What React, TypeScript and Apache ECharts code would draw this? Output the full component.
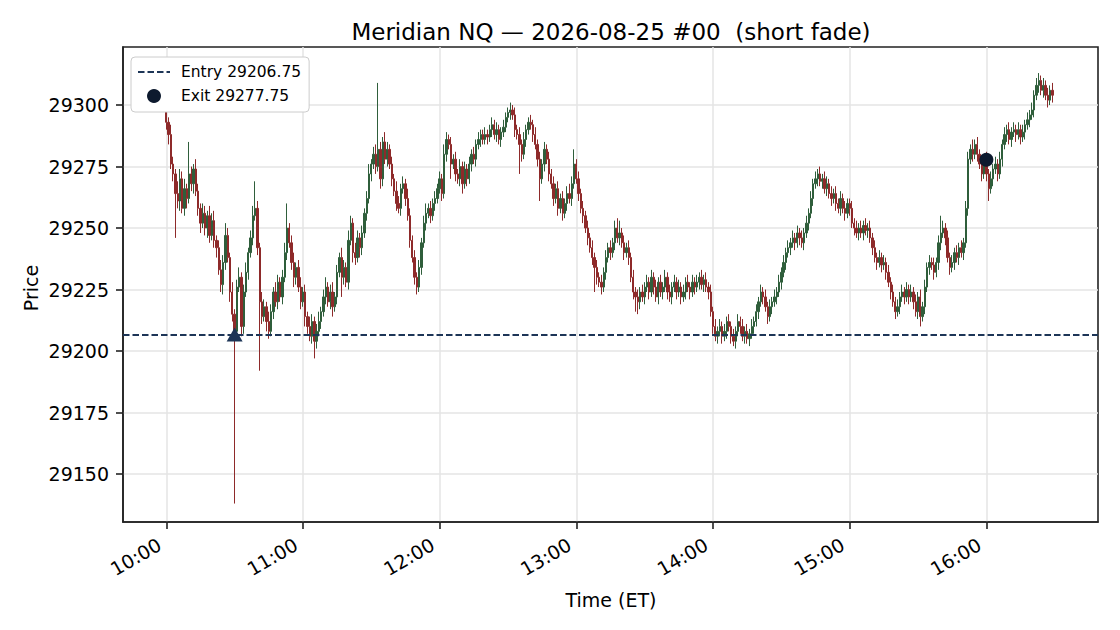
import React, { useEffect, useRef } from "react";
import * as echarts from "echarts";

// ---- data (prices are offsets in points from BASE_PRICE) ----
const BASE_PRICE = 29200;
const SESSION_START_MINUTE = 600; // 10:00
const xTickLabels = ["10:00", "11:00", "12:00", "13:00", "14:00", "15:00", "16:00"];
const yTicks = [29150, 29175, 29200, 29225, 29250, 29275, 29300];
const entryPrice = 29206.75;
const exitPrice = 29277.75;
const entryMinute = 30;
const exitMinute = 360;
const firstOpen = 100;

// 1-minute closes, 10:00 .. 16:29
const closes = [
  93, 88, 76, 72, 64, 61, 70, 58, 66, 62,
  72, 68, 74, 65, 58, 52, 56, 50, 55, 47,
  53, 45, 42, 33, 27, 36, 47, 38, 24, 15,
  8, 26, 30, 10, 24, 32, 40, 46, 55, 58,
  42, 20, 14, 18, 12, 8, 16, 24, 20, 28,
  22, 30, 40, 50, 44, 36, 30, 34, 26, 20,
  24, 14, 10, 6, 12, 4, 8, 12, 16, 22,
  26, 20, 24, 18, 22, 32, 38, 30, 34, 28,
  45, 52, 40, 38, 46, 42, 48, 56, 62, 72,
  76, 80, 75, 82, 70, 85, 78, 82, 76, 70,
  65, 60, 58, 66, 68, 62, 55, 45, 38, 30,
  26, 34, 44, 52, 56, 58, 55, 60, 62, 66,
  70, 64, 80, 86, 84, 76, 78, 72, 70, 75,
  68, 74, 70, 76, 80, 78, 84, 86, 88, 86,
  88, 87, 90, 92, 88, 90, 86, 89, 91, 95,
  97, 98, 96, 90, 88, 84, 80, 86, 90, 93,
  92, 88, 84, 78, 70, 76, 82, 78, 72, 68,
  62, 66, 58, 62, 56, 60, 64, 62, 68, 76,
  70, 64, 58, 55, 50, 46, 42, 38, 34, 30,
  28, 26, 32, 38, 42, 40, 44, 50, 46, 48,
  44, 40, 42, 38, 30, 24, 22, 20, 24, 22,
  26, 28, 24, 30, 26, 22, 28, 24, 26, 30,
  24, 22, 26, 28, 24, 26, 22, 24, 28, 26,
  24, 28, 26, 28, 30, 27, 29, 26, 24, 16,
  10, 6, 8, 10, 6, 8, 12, 10, 6, 4,
  8, 12, 10, 6, 8, 5, 7, 10, 12, 16,
  20, 24, 22, 18, 14, 18, 20, 22, 24, 28,
  32, 36, 40, 42, 44, 46, 44, 48, 46, 44,
  48, 52, 56, 62, 68, 70, 72, 69, 70, 66,
  68, 64, 62, 64, 60, 58, 62, 58, 56, 60,
  58, 52, 50, 48, 50, 48, 51, 49, 50, 46,
  42, 38, 36, 38, 35, 36, 32, 28, 24, 20,
  16, 18, 22, 24, 22, 25, 22, 24, 20, 16,
  22, 14, 18, 26, 34, 36, 35, 32, 36, 44,
  48, 50, 46, 38, 34, 36, 40, 38, 42, 40,
  44, 58, 78, 82, 80, 84, 80, 76, 72, 78,
  72, 66, 70, 74, 76, 72, 78, 84, 88, 90,
  86, 89, 90, 88, 90, 87, 89, 92, 94, 96,
  98, 104, 108, 110, 106, 108, 104, 102, 106, 104,
];

// upper wick length above the body, points
const wickUp = [
  3, 2, 4, 3, 2, 5, 4, 3, 4, 2,
  13, 3, 2, 4, 3, 2, 4, 3, 2, 4,
  3, 4, 2, 3, 4, 3, 5, 3, 2, 4,
  2, 3, 4, 2, 3, 4, 2, 3, 4, 11,
  3, 2, 4, 3, 2, 4, 3, 2, 4, 3,
  2, 3, 4, 10, 2, 3, 4, 2, 3, 4,
  2, 3, 2, 4, 3, 2, 3, 4, 2, 3,
  4, 2, 3, 4, 2, 3, 2, 4, 3, 2,
  4, 3, 2, 4, 3, 2, 3, 2, 3, 4,
  2, 3, 4, 27, 3, 2, 4, 3, 2, 3,
  2, 4, 3, 2, 3, 2, 4, 3, 2, 3,
  2, 3, 2, 3, 4, 2, 3, 2, 3, 2,
  3, 2, 4, 3, 2, 3, 2, 3, 2, 3,
  2, 3, 2, 3, 2, 3, 2, 3, 2, 2,
  3, 2, 2, 3, 2, 3, 2, 2, 3, 2,
  2, 3, 2, 3, 2, 3, 2, 3, 2, 2,
  3, 2, 3, 2, 3, 2, 3, 2, 3, 2,
  3, 2, 3, 2, 3, 2, 3, 4, 3, 6,
  2, 3, 2, 3, 2, 3, 2, 3, 2, 3,
  2, 3, 2, 3, 2, 3, 2, 3, 4, 5,
  2, 3, 2, 3, 2, 3, 2, 3, 2, 3,
  2, 3, 2, 3, 2, 3, 2, 3, 2, 3,
  2, 3, 2, 3, 2, 3, 2, 3, 2, 3,
  2, 3, 2, 3, 2, 3, 2, 3, 2, 3,
  2, 3, 2, 3, 2, 3, 2, 3, 2, 3,
  2, 3, 2, 3, 2, 3, 2, 3, 2, 3,
  2, 3, 2, 3, 2, 3, 2, 3, 2, 3,
  2, 3, 2, 3, 2, 3, 2, 3, 2, 3,
  2, 3, 2, 3, 2, 3, 2, 3, 2, 3,
  3, 2, 3, 2, 3, 2, 3, 2, 3, 2,
  2, 3, 2, 3, 2, 3, 2, 3, 2, 3,
  2, 3, 2, 3, 2, 3, 2, 3, 2, 3,
  2, 3, 2, 3, 2, 3, 2, 3, 2, 3,
  2, 3, 2, 3, 2, 3, 2, 3, 2, 3,
  7, 3, 2, 3, 2, 3, 2, 3, 2, 3,
  2, 3, 3, 2, 4, 2, 3, 2, 3, 2,
  3, 2, 3, 2, 3, 2, 3, 2, 3, 2,
  3, 2, 3, 2, 3, 2, 3, 2, 3, 2,
  3, 2, 3, 3, 2, 3, 2, 3, 2, 3,
];

// lower wick length below the body, points
const wickDown = [
  3, 4, 2, 3, 18, 3, 4, 2, 3, 4,
  2, 3, 4, 2, 3, 4, 2, 3, 4, 3,
  2, 3, 4, 2, 3, 4, 3, 2, 4, 3,
  70, 3, 2, 4, 3, 2, 3, 2, 3, 2,
  3, 28, 3, 2, 4, 3, 2, 3, 2, 3,
  2, 3, 2, 3, 2, 3, 4, 3, 2, 3,
  2, 4, 3, 2, 3, 7, 3, 2, 3, 2,
  3, 2, 3, 4, 2, 3, 2, 8, 3, 2,
  3, 2, 4, 3, 2, 4, 3, 2, 3, 2,
  3, 2, 3, 2, 4, 3, 2, 3, 2, 3,
  2, 3, 2, 3, 2, 3, 2, 3, 2, 3,
  3, 2, 3, 2, 3, 2, 3, 2, 3, 2,
  2, 3, 2, 3, 2, 6, 2, 3, 2, 3,
  4, 2, 3, 2, 3, 2, 3, 2, 3, 2,
  2, 3, 2, 3, 2, 3, 2, 3, 2, 2,
  2, 3, 2, 3, 2, 12, 3, 2, 3, 2,
  2, 3, 2, 3, 9, 2, 3, 2, 3, 2,
  3, 2, 3, 2, 3, 2, 3, 2, 3, 2,
  2, 3, 2, 3, 2, 3, 2, 3, 10, 3,
  2, 3, 2, 3, 2, 3, 2, 3, 2, 3,
  2, 3, 2, 3, 2, 3, 6, 5, 3, 2,
  3, 2, 3, 2, 3, 2, 3, 2, 3, 2,
  3, 2, 3, 2, 3, 2, 3, 2, 3, 2,
  3, 2, 3, 2, 3, 2, 3, 2, 3, 2,
  3, 2, 3, 2, 3, 2, 3, 2, 3, 2,
  3, 2, 3, 2, 3, 2, 3, 2, 3, 2,
  3, 2, 3, 2, 3, 2, 3, 2, 3, 2,
  3, 2, 3, 2, 3, 2, 3, 2, 3, 2,
  3, 2, 3, 2, 3, 2, 3, 2, 3, 2,
  3, 2, 3, 2, 3, 2, 3, 2, 3, 2,
  3, 2, 3, 2, 3, 2, 3, 2, 3, 2,
  3, 2, 3, 2, 3, 2, 3, 2, 3, 2,
  3, 2, 3, 2, 3, 2, 3, 2, 3, 2,
  3, 4, 2, 3, 2, 3, 2, 3, 2, 3,
  3, 2, 3, 2, 3, 2, 3, 2, 3, 2,
  3, 2, 3, 2, 3, 2, 3, 2, 3, 2,
  3, 5, 2, 3, 2, 3, 2, 3, 2, 3,
  2, 3, 2, 3, 2, 3, 2, 3, 2, 3,
  2, 3, 2, 3, 2, 3, 2, 3, 2, 3,
];

// ---- styling ----
const FONT = "DejaVu Sans";
const UP = "#2f5e3b";
const DOWN = "#8e2a2a";
const NAVY = "#1d3557";
const DARK = "#0d1a2e";
const GRIDC = "#e4e4e4";
const AXISC = "#222222";
const PAD_BEFORE = 19;
const PAD_AFTER = 20;

function fmtTime(m: number) {
  const h = Math.floor(m / 60);
  const mm = ((m % 60) + 60) % 60;
  return String(h).padStart(2, "0") + ":" + String(mm).padStart(2, "0");
}

export default function App() {
  const ref = useRef<HTMLDivElement>(null);

  useEffect(() => {
    document.body.style.margin = "0";
    if (!ref.current) return;
    const chart = echarts.init(ref.current, undefined, { renderer: "svg" });

    const n = closes.length;
    const categories: string[] = [];
    for (let i = -PAD_BEFORE; i < n + PAD_AFTER; i++) {
      categories.push(fmtTime(SESSION_START_MINUTE + i));
    }
    const candles = closes.map((c, i) => {
      const o = i === 0 ? firstOpen : closes[i - 1];
      const lo = Math.min(o, c) - wickDown[i];
      const hi = Math.max(o, c) + wickUp[i];
      return [i + PAD_BEFORE, BASE_PRICE + o, BASE_PRICE + c, BASE_PRICE + lo, BASE_PRICE + hi];
    });
    const isTick = (index: number) => {
      const lbl = categories[index];
      return xTickLabels.indexOf(lbl) >= 0 && index >= PAD_BEFORE && index < PAD_BEFORE + n;
    };

    const entryName = "Entry " + entryPrice.toFixed(2);
    const exitName = "Exit " + exitPrice.toFixed(2);

    chart.setOption({
      animation: false,
      backgroundColor: "#ffffff",
      textStyle: { fontFamily: FONT },
      grid: {
        left: 123,
        right: 22,
        top: 47,
        bottom: 108,
        show: true,
        borderColor: AXISC,
        borderWidth: 1.6,
        backgroundColor: "transparent",
        containLabel: false,
      },
      legend: {
        data: [
          { name: entryName, itemStyle: { opacity: 0 } },
          { name: exitName },
        ],
        orient: "vertical",
        left: 131,
        top: 57,
        backgroundColor: "#ffffff",
        borderColor: "#cccccc",
        borderWidth: 1,
        borderRadius: 4,
        padding: [7, 8, 8, 6],
        itemWidth: 32,
        itemHeight: 14,
        itemGap: 8,
        textStyle: { fontFamily: FONT, fontSize: 15.5, color: "#000", padding: [0, 0, 0, 6] },
      },
      xAxis: {
        type: "category",
        data: categories,
        boundaryGap: false,
        axisLine: { show: true, lineStyle: { color: AXISC, width: 1.6 } },
        axisTick: { show: true, interval: (i: number) => isTick(i), length: 7, lineStyle: { color: AXISC, width: 1.6 } },
        axisLabel: {
          interval: (i: number) => isTick(i),
          rotate: 30,
          fontFamily: FONT,
          fontSize: 19,
          color: "#000",
          margin: 17,
          padding: [0, 8, 0, 0],
        },
        splitLine: { show: true, interval: (i: number) => isTick(i), lineStyle: { color: GRIDC, width: 1.5 } },
      },
      yAxis: {
        type: "value",
        min: 29130.5,
        max: 29323.6,
        axisLine: { show: true, lineStyle: { color: AXISC, width: 1.6 } },
        axisTick: { show: true, customValues: yTicks, length: 7, lineStyle: { color: AXISC, width: 1.6 } },
        axisLabel: {
          customValues: yTicks,
          formatter: (v: number) => String(v),
          fontFamily: FONT,
          fontSize: 19,
          color: "#000",
          margin: 14,
        },
        splitLine: { show: true, lineStyle: { color: GRIDC, width: 1.5 } },
      },
      graphic: [
        {
          type: "text",
          x: 611,
          y: 32,
          style: {
            text: "Meridian NQ — 2026-08-25 #00  (short fade)",
            fontFamily: FONT,
            fontSize: 23,
            fill: "#000",
            align: "center",
            verticalAlign: "middle",
          },
        },
        {
          type: "text",
          x: 611,
          y: 600,
          style: { text: "Time (ET)", fontFamily: FONT, fontSize: 19, fill: "#000", align: "center", verticalAlign: "middle" },
        },
        {
          type: "text",
          x: 31,
          y: 288,
          rotation: Math.PI / 2,
          style: { text: "Price", fontFamily: FONT, fontSize: 19, fill: "#000", align: "center", verticalAlign: "middle" },
        },
      ],
      series: [
        {
          type: "candlestick",
          name: "NQ",
          data: candles,
          encode: { x: 0, y: [1, 2, 3, 4] },
          barWidth: 1.8,
          itemStyle: {
            color: UP,
            color0: DOWN,
            borderColor: UP,
            borderColor0: DOWN,
            borderWidth: 1,
          },
          z: 2,
        },
        {
          type: "line",
          name: entryName,
          data: [],
          symbol: "none",
          lineStyle: { color: NAVY, width: 2, type: [6.5, 3] },
          itemStyle: { color: NAVY },
          markLine: {
            silent: true,
            symbol: ["none", "none"],
            label: { show: false },
            lineStyle: { color: NAVY, width: 2, type: [6.5, 3] },
            data: [{ yAxis: entryPrice }],
          },
          z: 3,
        },
        {
          type: "scatter",
          name: "entryMarker",
          data: [[entryMinute + PAD_BEFORE, entryPrice]],
          symbol: "triangle",
          symbolSize: [16, 14],
          itemStyle: { color: NAVY, opacity: 1 },
          z: 5,
        },
        {
          type: "scatter",
          name: exitName,
          data: [[exitMinute + PAD_BEFORE, exitPrice]],
          symbol: "circle",
          symbolSize: 14,
          itemStyle: { color: DARK, opacity: 1 },
          z: 5,
        },
      ],
    });

    return () => chart.dispose();
  }, []);

  return (
    <div
      ref={ref}
      style={{ position: "absolute", left: 0, top: 0, width: 1120, height: 630, background: "#fff" }}
    />
  );
}
